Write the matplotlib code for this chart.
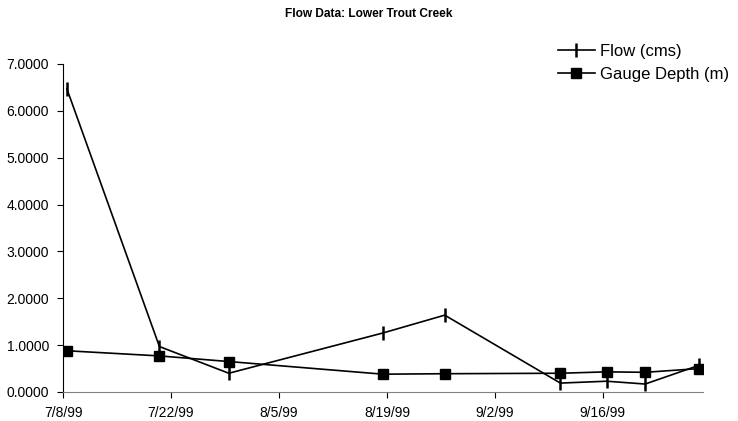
import pandas as pd
import matplotlib
matplotlib.use('Agg')
import matplotlib.pyplot as plt

plt.rcParams['font.family'] = ['Liberation Sans', 'DejaVu Sans']

dates = ['1999-07-08', '1999-07-20', '1999-07-29', '1999-08-18', '1999-08-26',
         '1999-09-10', '1999-09-16', '1999-09-21', '1999-09-28']
flow = [6.47, 0.97, 0.40, 1.26, 1.64, 0.19, 0.23, 0.17, 0.57]
gauge = [0.88, 0.77, 0.65, 0.38, 0.39, 0.40, 0.43, 0.42, 0.50]
tick_dates = ['1999-07-08', '1999-07-22', '1999-08-05', '1999-08-19', '1999-09-02', '1999-09-16']

# points sit mid-day like Excel's date axis
x = pd.to_datetime(dates) + pd.Timedelta(hours=12)

fig = plt.figure(figsize=(7.38, 4.21), dpi=100)
ax = fig.add_axes([0.0854, 0.0689, 0.8672, 0.7791])

ax.plot(x, flow, color='black', lw=1.2, marker='|', ms=10, mew=1.8, label='Flow (cms)')
ax.plot(x, gauge, color='black', lw=1.2, marker='s', ms=6.5, label='Gauge Depth (m)')

ax.set_xlim(pd.Timestamp('1999-07-08'), pd.Timestamp('1999-09-29'))
ax.set_ylim(0, 7)
ax.set_yticks(range(0, 8))
ax.yaxis.set_major_formatter(plt.FuncFormatter(lambda v, p: '%.4f' % v))
ax.set_xticks(pd.to_datetime(tick_dates))
ax.set_xticklabels([d.strftime('%-m/%-d/%y') for d in pd.to_datetime(tick_dates)])

for s in ['top', 'right']:
    ax.spines[s].set_visible(False)
ax.spines['left'].set_color('black')
ax.spines['bottom'].set_color('#808080')
ax.tick_params(axis='both', labelsize=10, length=4, direction='out')
ax.tick_params(axis='y', pad=6)
ax.tick_params(axis='x', pad=6)

fig.text(0.5, 0.966, 'Flow Data: Lower Trout Creek', ha='center', va='center',
         fontsize=8.6, fontweight='bold')
fig.legend(loc='upper left', bbox_to_anchor=(558 / 738, 1 - 44 / 421), frameon=False,
           fontsize=12, handlelength=2.2, handletextpad=0.3, labelspacing=0.45,
           borderpad=0, borderaxespad=0)

fig.savefig('out.png', dpi=100)
